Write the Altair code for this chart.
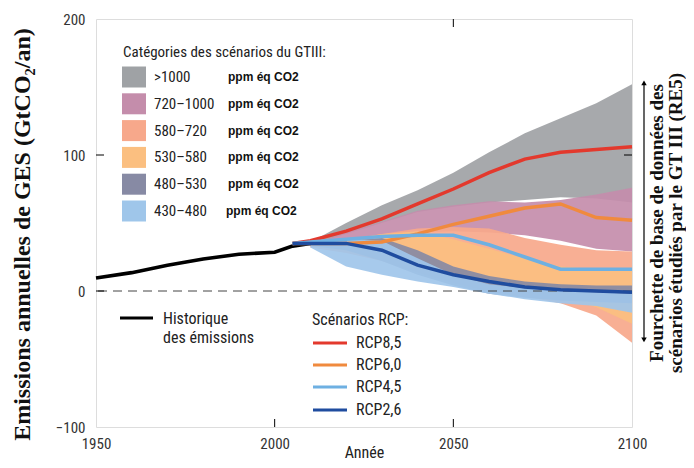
import altair as alt
import pandas as pd

# ------------------------------------------------------------------ data
hist_years = [1950, 1960, 1970, 1980, 1990, 2000, 2005, 2010]
hist_values = [9.5, 13.5, 19, 23.5, 27, 28.5, 33, 35]

rcp_years = [2005, 2010, 2020, 2030, 2040, 2050, 2060, 2070, 2080, 2090, 2100]
rcp85 = [35, 37, 44, 53, 64, 75, 87, 97, 102, 104, 106]
rcp60 = [35, 35, 35, 36, 42, 49, 55, 61, 64, 54, 52]
rcp45 = [35, 36, 38, 40, 41, 41, 34, 25, 16, 16, 16]
rcp26 = [35, 35, 35, 30, 19, 12, 7, 3, 1, 0, -1]
rcp_names = ["RCP8,5", "RCP6,0", "RCP4,5", "RCP2,6"]
rcp_colors = ["#e3392d", "#f08a3e", "#6eb0e2", "#1f4c9f"]

band_years = [2010, 2020, 2030, 2040, 2050, 2060, 2070, 2080, 2090, 2100]
cat_labels = [">1000", "720\u20131000", "580\u2013720", "530\u2013580", "480\u2013530", "430\u2013480"]
cat_colors = ["#9fa2a5", "#c48dab", "#f7a88b", "#fbbf80", "#878aa4", "#9fc6ea"]
band_hi = [
    [36, 50, 63, 74, 87, 102, 116, 127, 138, 152],
    [34, 43, 51, 59, 63, 66, 65, 67, 71, 76],
    [34, 38, 42, 46, 47, 46, 39, 34, 30, 29],
    [34, 37, 42, 44, 38, 31, 24, 18, 16, 15],
    [34, 37, 39, 30, 18, 11, 7, 5, 4, 4],
    [36, 38, 37, 24, 12, 5, 2, 0, -1, -2],
]
band_lo = [
    [34, 42, 50, 58, 62, 65, 67, 69, 68, 65],
    [33, 36, 40, 43, 44, 43, 41, 37, 31, 29],
    [32, 28, 22, 14, 6, 0, -4, -9, -18, -38],
    [33, 30, 24, 14, 6, 2, 0, -4, -12, -24],
    [33, 30, 22, 12, 4, -2, -5, -7, -8, -9],
    [32, 18, 12, 7, 3, -2, -6, -9, -11, -16],
]
unit_text = "ppm \u00e9q CO2"
db_range = [153, -36]

x_ticks_bottom = [2000, 2050]
x_ticks_top = [2050]
y_ticks_left = [0, 100]
y_ticks_right = [100]

# ------------------------------------------------------------------ style
SANS = "Liberation Sans Narrow, Roboto Condensed, Roboto, sans-serif"
SERIF = "Liberation Serif, DejaVu Serif, serif"
W, H = 536, 408

xs = alt.Scale(domain=[1950, 2100], nice=False, zero=False)
ys = alt.Scale(domain=[-100, 200], nice=False, zero=False)

x_axis = alt.Axis(values=[1950, 2000, 2050, 2100], format="d", ticks=False, domain=False,
                  grid=False, labelFlush=False, labelFont=SANS, labelFontSize=15,
                  labelColor="#333", labelPadding=9, title="Ann\u00e9e", titleFont=SANS,
                  titleFontSize=16, titleFontWeight="normal", titleColor="#222", titleY=25,
                  titleBaseline="middle")
y_axis = alt.Axis(values=[-100, 0, 100, 200], ticks=False, domain=False, grid=False,
                  labelFlush=False, labelFont=SANS, labelFontSize=15, labelColor="#333",
                  labelPadding=11,
                  title="Emissions annuelles de GES (GtCO\u2082/an)", titleFont=SERIF,
                  titleFontSize=24, titleFontWeight="bold", titleColor="#111",
                  titleX=-74, titleY=215, titleAngle=270, titleAlign="center",
                  titleBaseline="middle")

layers = []

# scenario bands
for i, lab in enumerate(cat_labels):
    dfb = pd.DataFrame({"year": band_years, "lo": band_lo[i], "hi": band_hi[i]})
    if i == 0:
        enc = dict(x=alt.X("year:Q", scale=xs, axis=x_axis),
                   y=alt.Y("lo:Q", scale=ys, axis=y_axis), y2="hi:Q")
    else:
        enc = dict(x=alt.X("year:Q", scale=xs), y=alt.Y("lo:Q", scale=ys), y2="hi:Q")
    layers.append(alt.Chart(dfb).mark_area(color=cat_colors[i], opacity=0.92).encode(**enc))

# zero line
layers.append(alt.Chart(pd.DataFrame({"v": [0]})).mark_rule(
    color="#444", strokeDash=[9, 6], strokeWidth=1).encode(y=alt.Y("v:Q", scale=ys)))

# historical
dfh = pd.DataFrame({"year": hist_years, "v": hist_values})
layers.append(alt.Chart(dfh).mark_line(color="black", strokeWidth=3.6).encode(
    x=alt.X("year:Q", scale=xs), y=alt.Y("v:Q", scale=ys)))

# RCP lines
rows = []
for name, vals in zip(rcp_names, [rcp85, rcp60, rcp45, rcp26]):
    for yv, v in zip(rcp_years, vals):
        rows.append({"year": yv, "v": v, "rcp": name})
dfr = pd.DataFrame(rows)
layers.append(alt.Chart(dfr).mark_line(strokeWidth=3.5).encode(
    x=alt.X("year:Q", scale=xs), y=alt.Y("v:Q", scale=ys),
    color=alt.Color("rcp:N", scale=alt.Scale(domain=rcp_names, range=rcp_colors), legend=None)))

# inward ticks
layers.append(alt.Chart(pd.DataFrame({"year": x_ticks_bottom})).mark_rule(
    color="black", strokeWidth=1).encode(x=alt.X("year:Q", scale=xs), y=alt.value(H), y2=alt.value(H - 8)))
layers.append(alt.Chart(pd.DataFrame({"year": x_ticks_top})).mark_rule(
    color="black", strokeWidth=1).encode(x=alt.X("year:Q", scale=xs), y=alt.value(0), y2=alt.value(8)))
layers.append(alt.Chart(pd.DataFrame({"v": y_ticks_left})).mark_rule(
    color="black", strokeWidth=1).encode(y=alt.Y("v:Q", scale=ys), x=alt.value(0), x2=alt.value(8)))
layers.append(alt.Chart(pd.DataFrame({"v": y_ticks_right})).mark_rule(
    color="black", strokeWidth=1).encode(y=alt.Y("v:Q", scale=ys), x=alt.value(W - 8), x2=alt.value(W)))

# database range arrow
dfa = pd.DataFrame({"top": [db_range[0]], "bot": [db_range[1]]})
AX = 548
layers.append(alt.Chart(dfa).mark_rule(color="black", strokeWidth=1.2).encode(
    x=alt.value(AX), y=alt.Y("top:Q", scale=ys), y2="bot:Q"))
layers.append(alt.Chart(dfa).mark_point(shape="triangle-up", filled=True, size=30, color="black",
                                         opacity=1).encode(x=alt.value(AX), y=alt.Y("top:Q", scale=ys)))
layers.append(alt.Chart(dfa).mark_point(shape="triangle-down", filled=True, size=30, color="black",
                                         opacity=1).encode(x=alt.value(AX), y=alt.Y("bot:Q", scale=ys)))

# right-side label
dft = pd.DataFrame({"t": ["Fourchette de base de donn\u00e9es des",
                          "sc\u00e9narios \u00e9tudi\u00e9s par le GT III (RE5)"],
                    "px": [561, 580], "py": [204, 204]})
layers.append(alt.Chart(dft).mark_text(angle=270, font=SERIF, fontSize=19, fontWeight="bold",
                                       align="center", baseline="middle", color="#111").encode(
    x=alt.X("px:Q", scale=None, axis=None), y=alt.Y("py:Q", scale=None, axis=None), text="t:N"))

# category legend
leg = pd.DataFrame({"lab": cat_labels, "col": cat_colors,
                    "unit": [unit_text] * len(cat_labels)})
leg["yc"] = [58 + i * 26.8 for i in range(len(cat_labels))]
leg["y0"] = leg["yc"] - 10.5
leg["y1"] = leg["yc"] + 10.5
leg["x0"] = 26
leg["x1"] = 50
leg["xt"] = 58
leg["xu"] = [132, 132, 132, 132, 132, 130]
layers.append(alt.Chart(pd.DataFrame({"t": ["Cat\u00e9gories des sc\u00e9narios du GTIII:"],
                                      "px": [27], "py": [33]})).mark_text(
    font=SANS, fontSize=15, align="left", baseline="middle", color="#222").encode(
    x=alt.X("px:Q", scale=None, axis=None), y=alt.Y("py:Q", scale=None, axis=None), text="t:N"))
layers.append(alt.Chart(leg).mark_rect().encode(
    x=alt.X("x0:Q", scale=None, axis=None), x2="x1:Q",
    y=alt.Y("y0:Q", scale=None, axis=None), y2="y1:Q",
    color=alt.Color("col:N", scale=None)))
layers.append(alt.Chart(leg).mark_text(font=SANS, fontSize=15, align="left", baseline="middle",
                                       color="#222").encode(
    x=alt.X("xt:Q", scale=None, axis=None), y=alt.Y("yc:Q", scale=None, axis=None), text="lab:N"))
layers.append(alt.Chart(leg).mark_text(font="Liberation Sans, Arial, sans-serif", fontSize=12,
                                       fontWeight="bold", align="left", baseline="middle",
                                       color="#111").encode(
    x=alt.X("xu:Q", scale=None, axis=None), y=alt.Y("yc:Q", scale=None, axis=None), text="unit:N"))

# history / RCP legend
lg2 = pd.DataFrame({"name": ["hist"] + rcp_names, "col": ["black"] + rcp_colors,
                    "x0": [24, 217, 217, 217, 217], "x1": [57, 251, 251, 251, 251],
                    "yc": [299, 324, 346, 368, 391]})
layers.append(alt.Chart(lg2).mark_rule(strokeWidth=3).encode(
    x=alt.X("x0:Q", scale=None, axis=None), x2="x1:Q",
    y=alt.Y("yc:Q", scale=None, axis=None), color=alt.Color("col:N", scale=None)))
txt2 = pd.DataFrame({"t": ["Historique", "des \u00e9missions", "Sc\u00e9narios RCP:"] + rcp_names,
                     "px": [67, 67, 216, 260, 260, 260, 260],
                     "py": [300, 319, 301, 324, 346, 368, 391]})
layers.append(alt.Chart(txt2).mark_text(font=SANS, fontSize=16, align="left", baseline="middle",
                                        color="#222").encode(
    x=alt.X("px:Q", scale=None, axis=None), y=alt.Y("py:Q", scale=None, axis=None), text="t:N"))

chart = alt.layer(*layers).properties(
    width=W, height=H,
    autosize=alt.AutoSizeParams(type="none"),
    padding={"left": 88, "top": 11, "right": 54, "bottom": 33},
).configure_view(stroke="black", strokeWidth=1.4).configure(background="white")

chart.save("out.html", embed_options={"renderer": "svg", "actions": False})
